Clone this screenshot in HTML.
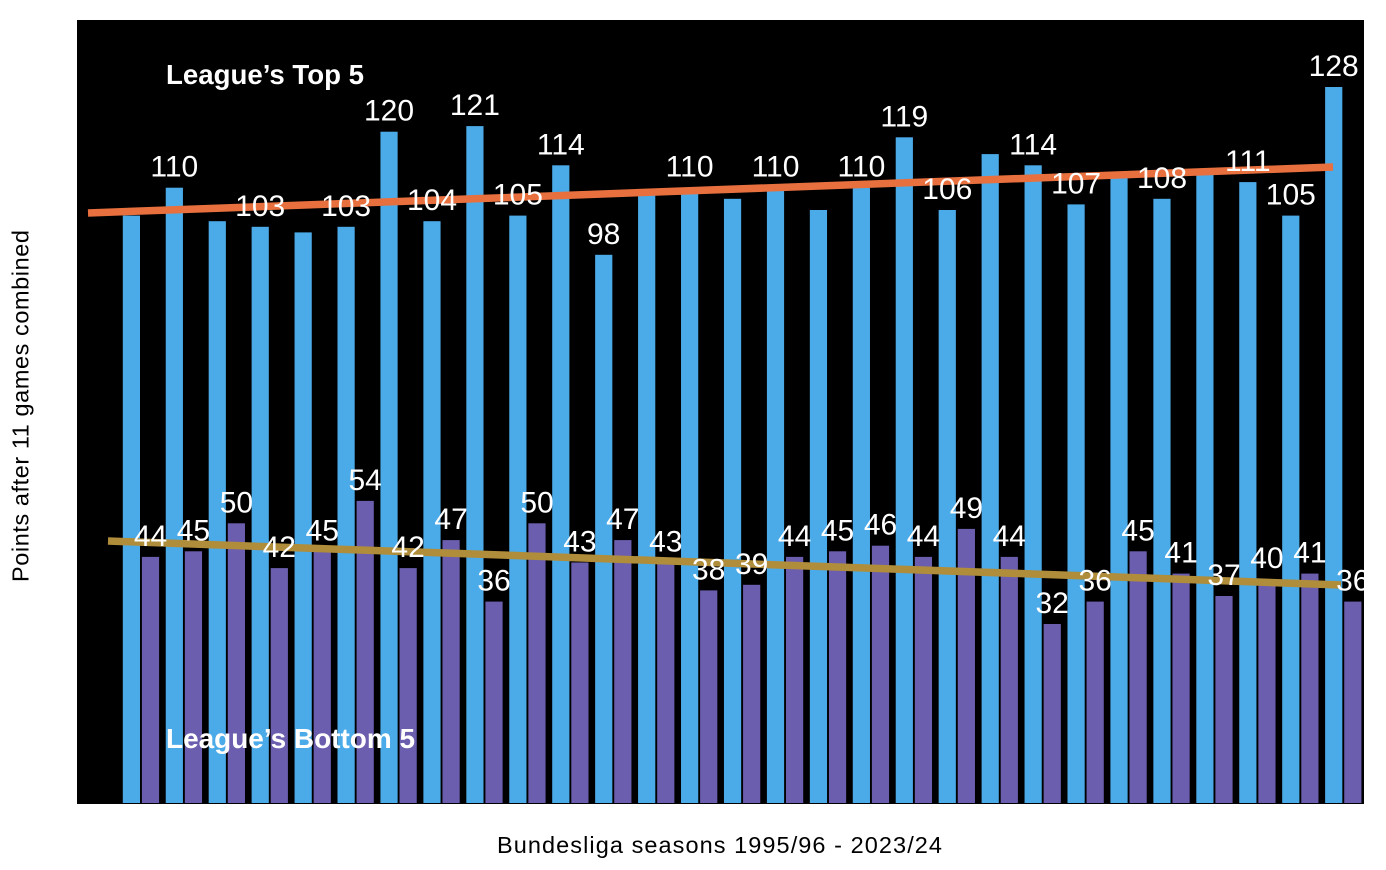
<!DOCTYPE html>
<html>
<head>
<meta charset="utf-8">
<style>
  html, body { margin:0; padding:0; background:#ffffff; }
  body { width:1386px; height:870px; overflow:hidden; }
  svg { display:block; }
  .lb { font-family:"Liberation Sans", Arial, sans-serif; font-size:30px; fill:#ffffff; text-anchor:middle; }
  .ttl { font-family:"Liberation Sans", Arial, sans-serif; font-weight:bold; fill:#ffffff; }
  .ax { font-family:"Liberation Sans", Arial, sans-serif; font-size:23.5px; fill:#000000; }
</style>
</head>
<body>
<svg width="1386" height="870" viewBox="0 0 1386 870" xmlns="http://www.w3.org/2000/svg">
  <defs>
    <clipPath id="plot"><rect x="77" y="20" width="1287" height="784"/></clipPath>
  </defs>
  <rect x="77" y="20" width="1287" height="784" fill="#000000"/>
  <g clip-path="url(#plot)">
    <!-- blue bars -->
    <g fill="#4BAAE8">
      <rect x="122.8" y="215.6" width="17.2" height="587.4"/>
      <rect x="165.74" y="187.7" width="17.2" height="615.3"/>
      <rect x="208.68" y="221.2" width="17.2" height="581.8"/>
      <rect x="251.62" y="226.8" width="17.2" height="576.2"/>
      <rect x="294.56" y="232.4" width="17.2" height="570.6"/>
      <rect x="337.5" y="226.8" width="17.2" height="576.2"/>
      <rect x="380.44" y="131.7" width="17.2" height="671.3"/>
      <rect x="423.38" y="221.2" width="17.2" height="581.8"/>
      <rect x="466.32" y="126.1" width="17.2" height="676.9"/>
      <rect x="509.26" y="215.6" width="17.2" height="587.4"/>
      <rect x="552.2" y="165.3" width="17.2" height="637.7"/>
      <rect x="595.14" y="254.8" width="17.2" height="548.2"/>
      <rect x="638.08" y="193.3" width="17.2" height="609.7"/>
      <rect x="681.02" y="187.7" width="17.2" height="615.3"/>
      <rect x="723.96" y="198.8" width="17.2" height="604.2"/>
      <rect x="766.9" y="187.7" width="17.2" height="615.3"/>
      <rect x="809.84" y="210.0" width="17.2" height="593.0"/>
      <rect x="852.78" y="187.7" width="17.2" height="615.3"/>
      <rect x="895.72" y="137.3" width="17.2" height="665.7"/>
      <rect x="938.66" y="210.0" width="17.2" height="593.0"/>
      <rect x="981.6" y="154.1" width="17.2" height="648.9"/>
      <rect x="1024.54" y="165.3" width="17.2" height="637.7"/>
      <rect x="1067.48" y="204.4" width="17.2" height="598.6"/>
      <rect x="1110.42" y="176.5" width="17.2" height="626.5"/>
      <rect x="1153.36" y="198.8" width="17.2" height="604.2"/>
      <rect x="1196.3" y="173.7" width="17.2" height="629.3"/>
      <rect x="1239.24" y="182.1" width="17.2" height="620.9"/>
      <rect x="1282.18" y="215.6" width="17.2" height="587.4"/>
      <rect x="1325.12" y="87.0" width="17.2" height="716.0"/>
    </g>
    <!-- purple bars -->
    <g fill="#6B5EAE">
      <rect x="141.9" y="556.9" width="17.2" height="246.1"/>
      <rect x="184.84" y="551.3" width="17.2" height="251.7"/>
      <rect x="227.78" y="523.3" width="17.2" height="279.7"/>
      <rect x="270.72" y="568.1" width="17.2" height="234.9"/>
      <rect x="313.66" y="551.3" width="17.2" height="251.7"/>
      <rect x="356.6" y="500.9" width="17.2" height="302.1"/>
      <rect x="399.54" y="568.1" width="17.2" height="234.9"/>
      <rect x="442.48" y="540.1" width="17.2" height="262.9"/>
      <rect x="485.42" y="601.6" width="17.2" height="201.4"/>
      <rect x="528.36" y="523.3" width="17.2" height="279.7"/>
      <rect x="571.3" y="562.5" width="17.2" height="240.5"/>
      <rect x="614.24" y="540.1" width="17.2" height="262.9"/>
      <rect x="657.18" y="562.5" width="17.2" height="240.5"/>
      <rect x="700.12" y="590.4" width="17.2" height="212.6"/>
      <rect x="743.06" y="584.8" width="17.2" height="218.2"/>
      <rect x="786.0" y="556.9" width="17.2" height="246.1"/>
      <rect x="828.94" y="551.3" width="17.2" height="251.7"/>
      <rect x="871.88" y="545.7" width="17.2" height="257.3"/>
      <rect x="914.82" y="556.9" width="17.2" height="246.1"/>
      <rect x="957.76" y="528.9" width="17.2" height="274.1"/>
      <rect x="1000.7" y="556.9" width="17.2" height="246.1"/>
      <rect x="1043.64" y="624.0" width="17.2" height="179.0"/>
      <rect x="1086.58" y="601.6" width="17.2" height="201.4"/>
      <rect x="1129.52" y="551.3" width="17.2" height="251.7"/>
      <rect x="1172.46" y="573.6" width="17.2" height="229.4"/>
      <rect x="1215.4" y="596.0" width="17.2" height="207.0"/>
      <rect x="1258.34" y="579.2" width="17.2" height="223.8"/>
      <rect x="1301.28" y="573.6" width="17.2" height="229.4"/>
      <rect x="1344.22" y="601.6" width="17.2" height="201.4"/>
    </g>
    <!-- trend lines -->
    <line x1="88" y1="213" x2="1333" y2="167" stroke="#E8703F" stroke-width="7.5"/>
    <line x1="108" y1="541" x2="1341" y2="585" stroke="#B08D3A" stroke-width="7.5"/>
    <!-- blue labels -->
    <g class="lb">
      <text x="174.3" y="176.7">110</text>
      <text x="260.2" y="215.8">103</text>
      <text x="346.1" y="215.8">103</text>
      <text x="389.0" y="120.7">120</text>
      <text x="432.0" y="210.2">104</text>
      <text x="474.9" y="115.1">121</text>
      <text x="517.9" y="204.6">105</text>
      <text x="560.8" y="154.3">114</text>
      <text x="603.7" y="243.8">98</text>
      <text x="689.6" y="176.7">110</text>
      <text x="775.5" y="176.7">110</text>
      <text x="861.4" y="176.7">110</text>
      <text x="904.3" y="126.3">119</text>
      <text x="947.3" y="199.0">106</text>
      <text x="1033.1" y="154.3">114</text>
      <text x="1076.1" y="193.4">107</text>
      <text x="1162.0" y="187.8">108</text>
      <text x="1247.8" y="171.1">111</text>
      <text x="1290.8" y="204.6">105</text>
      <text x="1333.7" y="76.0">128</text>
    </g>
    <!-- purple labels -->
    <g class="lb">
      <text x="150.5" y="545.9">44</text>
      <text x="193.4" y="540.3">45</text>
      <text x="236.4" y="512.3">50</text>
      <text x="279.3" y="557.1">42</text>
      <text x="322.3" y="540.3">45</text>
      <text x="365.2" y="489.9">54</text>
      <text x="408.1" y="557.1">42</text>
      <text x="451.1" y="529.1">47</text>
      <text x="494.0" y="590.6">36</text>
      <text x="537.0" y="512.3">50</text>
      <text x="579.9" y="551.5">43</text>
      <text x="622.8" y="529.1">47</text>
      <text x="665.8" y="551.5">43</text>
      <text x="708.7" y="579.4">38</text>
      <text x="751.7" y="573.8">39</text>
      <text x="794.6" y="545.9">44</text>
      <text x="837.5" y="540.3">45</text>
      <text x="880.5" y="534.7">46</text>
      <text x="923.4" y="545.9">44</text>
      <text x="966.4" y="517.9">49</text>
      <text x="1009.3" y="545.9">44</text>
      <text x="1052.2" y="613.0">32</text>
      <text x="1095.2" y="590.6">36</text>
      <text x="1138.1" y="540.3">45</text>
      <text x="1181.1" y="562.6">41</text>
      <text x="1224.0" y="585.0">37</text>
      <text x="1266.9" y="568.2">40</text>
      <text x="1309.9" y="562.6">41</text>
      <text x="1352.8" y="590.6">36</text>
    </g>
    <!-- titles -->
    <text class="ttl" x="166" y="84" font-size="27.5" textLength="198" lengthAdjust="spacingAndGlyphs">League’s Top 5</text>
    <text class="ttl" x="166" y="748" font-size="28" textLength="249" lengthAdjust="spacingAndGlyphs">League’s Bottom 5</text>
  </g>
  <!-- axis titles -->
  <text class="ax" x="497" y="853" textLength="445" lengthAdjust="spacing">Bundesliga seasons 1995/96 - 2023/24</text>
  <text class="ax" transform="translate(28.3,582) rotate(-90)" x="0" y="0" textLength="352" lengthAdjust="spacing">Points after 11 games combined</text>
</svg>
</body>
</html>
